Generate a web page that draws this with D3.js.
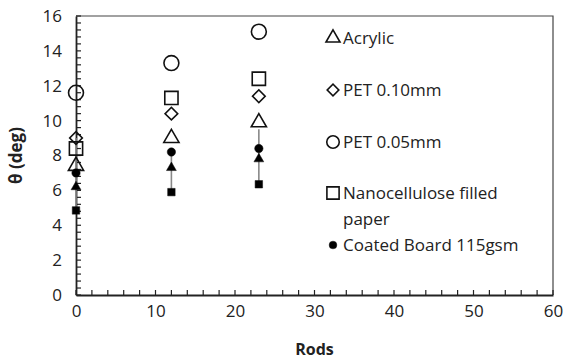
<!DOCTYPE html>
<html>
<head>
<meta charset="utf-8">
<script src="https://cdn.jsdelivr.net/npm/d3@7"></script>
<style>
  body { margin: 0; background: #fff; }
  text { font-family: "Open Sans", "Liberation Sans", sans-serif; fill: #222; }
</style>
</head>
<body>
<script>
// rods positions
var rods = [0, 12, 23];
// series values, one per rod
var acrylic = [7.4, 9.0, 9.9];
var pet010 = [9.0, 10.4, 11.4];
var pet005 = [11.6, 13.3, 15.1];
var nanocellulose = [8.4, 11.3, 12.4];
var coatedBoard = [7.0, 8.2, 8.4];
// unlabelled filled markers
var lowTriangle = [6.2, 7.3, 7.8];
var lowSquare = [4.85, 5.9, 6.35];
// gray bars
var barLow = [4.85, 5.9, 6.35];
var barHigh = [9.0, 8.2, 9.5];
var xTicks = [0, 10, 20, 30, 40, 50, 60];
var yTicks = [0, 2, 4, 6, 8, 10, 12, 14, 16];
var legendNames = ["Acrylic", "PET 0.10mm", "PET 0.05mm", "Nanocellulose filled|paper", "Coated Board 115gsm"];

var width = 565, height = 359;
var m = { left: 76, right: 12, top: 16, bottom: 64 };

var svg = d3.select("body").append("svg")
  .attr("width", width)
  .attr("height", height);

var x = d3.scaleLinear().domain([0, 60]).range([m.left, width - m.right]);
var y = d3.scaleLinear().domain([0, 16]).range([height - m.bottom, m.top]);

// plot border (top and right)
svg.append("path")
  .attr("d", "M" + x(0) + "," + y(16) + "H" + x(60) + "V" + y(0))
  .attr("fill", "none").attr("stroke", "#444").attr("stroke-width", 1.2);

// minor ticks
var xMinor = d3.range(0, 60.01, 2);
var yMinor = d3.range(0, 16.01, 0.4);
svg.append("g").selectAll("line").data(xMinor).enter().append("line")
  .attr("x1", function (d) { return x(d); }).attr("x2", function (d) { return x(d); })
  .attr("y1", y(0)).attr("y2", y(0) - 5)
  .attr("stroke", "#222").attr("stroke-width", 1.2);
svg.append("g").selectAll("line").data(yMinor).enter().append("line")
  .attr("y1", function (d) { return y(d); }).attr("y2", function (d) { return y(d); })
  .attr("x1", x(0)).attr("x2", x(0) + 5)
  .attr("stroke", "#222").attr("stroke-width", 1.2);

// axes
var xAxis = svg.append("g")
  .attr("transform", "translate(0," + y(0) + ")")
  .call(d3.axisBottom(x).tickValues(xTicks).tickSize(0).tickPadding(10));
var yAxis = svg.append("g")
  .attr("transform", "translate(" + x(0) + ",0)")
  .call(d3.axisLeft(y).tickValues(yTicks).tickSize(0).tickPadding(14));
[xAxis, yAxis].forEach(function (a) {
  a.select(".domain").attr("stroke", "#222").attr("stroke-width", 1.8);
  a.selectAll("text").style("font-size", "17px").attr("fill", "#333")
    .style("font-family", "'Open Sans', sans-serif");
});

// axis titles
svg.append("text").attr("x", (x(0) + x(60)) / 2).attr("y", 355)
  .attr("text-anchor", "middle").style("font-size", "16px").style("font-weight", "bold")
  .text("Rods");
svg.append("text").attr("transform", "translate(22," + y(8) + ") rotate(-90)")
  .attr("text-anchor", "middle").style("font-size", "17px").style("font-weight", "bold")
  .text("θ (deg)");

// gray bars
svg.append("g").selectAll("line").data(rods).enter().append("line")
  .attr("x1", function (d) { return x(d); }).attr("x2", function (d) { return x(d); })
  .attr("y1", function (d, i) { return y(barLow[i]); })
  .attr("y2", function (d, i) { return y(barHigh[i]); })
  .attr("stroke", "#888").attr("stroke-width", 1.6);

var sym = {
  triangle: d3.symbol().type(d3.symbolTriangle),
  diamond: d3.symbol().type(d3.symbolSquare),
  circle: d3.symbol().type(d3.symbolCircle),
  square: d3.symbol().type(d3.symbolSquare)
};

var series = [
  { vals: acrylic, type: "triangle", size: 100, fill: "#fff" },
  { vals: pet010, type: "diamond", size: 80, fill: "#fff", rot: 45 },
  { vals: pet005, type: "circle", size: 175, fill: "#fff" },
  { vals: nanocellulose, type: "square", size: 175, fill: "#fff" },
  { vals: coatedBoard, type: "circle", size: 55, fill: "#000" },
  { vals: lowTriangle, type: "triangle", size: 42, fill: "#000" },
  { vals: lowSquare, type: "square", size: 56, fill: "#000" }
];

function drawMarker(g, s, cx, cy) {
  g.append("path")
    .attr("d", sym[s.type].size(s.size)())
    .attr("transform", "translate(" + cx + "," + cy + ")" + (s.rot ? " rotate(" + s.rot + ")" : ""))
    .attr("fill", s.fill).attr("fill-opacity", s.fill === "#fff" ? 0 : 1)
    .attr("stroke", "#111").attr("stroke-width", s.fill === "#fff" ? 1.6 : 0.5);
}

var marks = svg.append("g");
series.forEach(function (s) {
  rods.forEach(function (r, i) {
    drawMarker(marks, s, x(r), y(s.vals[i]));
  });
});

// legend
var legY = [38, 90, 142, 193, 245];
var leg = svg.append("g");
legendNames.forEach(function (name, i) {
  var s = series[i];
  drawMarker(leg, { type: s.type, size: s.size * (i === 2 ? 0.7 : 0.85), fill: s.fill, rot: s.rot }, 333, legY[i]);
  var lines = name.split("|");
  lines.forEach(function (t, j) {
    leg.append("text").attr("x", 343).attr("y", legY[i] + 6 + j * 26)
      .style("font-size", "17px").text(t);
  });
});
</script>
</body>
</html>
